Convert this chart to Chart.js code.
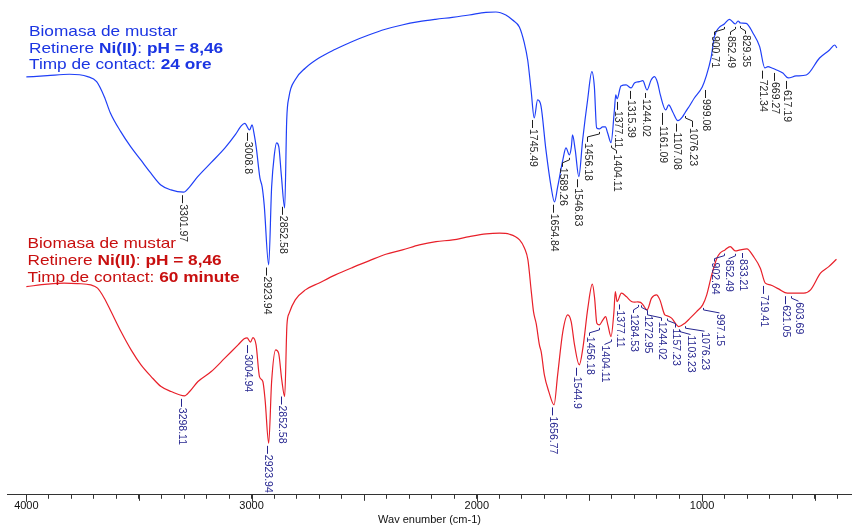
<!DOCTYPE html>
<html>
<head>
<meta charset="utf-8">
<script src="https://cdn.jsdelivr.net/npm/chart.js@4.4.1/dist/chart.umd.min.js"></script>
<style>
  html, body { margin: 0; padding: 0; background: #ffffff; }
  canvas { display: block; }
</style>
</head>
<body>
<canvas id="ftir" width="852" height="525"></canvas>
<script>
// FTIR spectra of mustard biomass after Ni(II) retention (pH 8.46)
// Upper trace: 24 h contact time
const wavenumber24h = [4000, 3907, 3809, 3728, 3688, 3654, 3627, 3581, 3537, 3492, 3448, 3403, 3358, 3302, 3274, 3239, 3181, 3118, 3073, 3046, 3030, 3009, 2998, 2988, 2979, 2963, 2953, 2944, 2924, 2911, 2899, 2889, 2879, 2868, 2853, 2844, 2834, 2807, 2762, 2703, 2628, 2555, 2480, 2406, 2332, 2257, 2183, 2109, 2034, 1960, 1915, 1871, 1841, 1811, 1789, 1774, 1759, 1745, 1730, 1715, 1693, 1670, 1655, 1641, 1618, 1604, 1589, 1580, 1575, 1563, 1547, 1530, 1508, 1489, 1478, 1468, 1456, 1441, 1429, 1419, 1404, 1389, 1383, 1377, 1360, 1337, 1315, 1300, 1278, 1263, 1244, 1226, 1211, 1197, 1185, 1161, 1148, 1130, 1107, 1086, 1076, 1053, 1034, 999, 982, 960, 945, 926, 901, 878, 852, 840, 829, 804, 774, 744, 721, 707, 690, 669, 641, 617, 582, 537, 478, 434, 411, 401];
const transmittance24h = [418, 419.3, 420.7, 418.3, 413.3, 398.3, 382, 363.3, 348.3, 335, 322, 310, 305, 302.7, 308.3, 318.3, 332, 347, 360, 369, 371.5, 365, 370, 360, 347, 317, 308, 290, 230, 308, 340, 352, 348, 320, 287, 375, 398, 415, 426.7, 436.7, 445.7, 453.3, 460, 465.7, 470, 473.3, 475.7, 477.7, 480, 482.7, 483, 480, 475, 468, 452, 435, 405, 377, 395, 389, 345, 308, 293, 308, 335, 347, 340, 348.3, 360, 345, 318.3, 355, 395, 423.3, 408.3, 367, 366, 368, 368, 362, 352.3, 385, 400, 396, 409, 410, 407, 412, 413.3, 414.3, 405, 415, 418.3, 412, 400, 385, 390, 383, 374.3, 378.3, 382, 390, 397, 408, 418.3, 437, 458.3, 467, 471, 475.7, 471, 474, 472, 471.7, 462, 448.3, 427, 428.3, 427, 425, 422, 417, 419, 420, 437, 445, 450, 447];

// Lower trace: 60 min contact time
const wavenumber60m = [4000, 3907, 3832, 3773, 3714, 3684, 3654, 3624, 3580, 3535, 3491, 3446, 3402, 3357, 3298, 3275, 3238, 3179, 3119, 3060, 3033, 3020, 3005, 2994, 2980, 2965, 2950, 2940, 2924, 2911, 2893, 2880, 2866, 2853, 2843, 2833, 2806, 2761, 2702, 2628, 2553, 2479, 2404, 2330, 2255, 2181, 2107, 2033, 1958, 1899, 1855, 1810, 1788, 1773, 1758, 1748, 1736, 1722, 1714, 1700, 1680, 1657, 1641, 1618, 1596, 1581, 1566, 1545, 1529, 1507, 1487, 1477, 1467, 1456, 1440, 1428, 1418, 1404, 1391, 1385, 1377, 1358, 1336, 1313, 1299, 1285, 1273, 1262, 1244, 1224, 1202, 1187, 1165, 1157, 1135, 1113, 1103, 1076, 1053, 1024, 997, 979, 957, 934, 920, 898, 875, 852, 831, 801, 771, 741, 719, 697, 660, 621, 593, 548, 518, 474, 437, 403];
const transmittance60m = [208.3, 210.7, 211.7, 211.3, 210, 206.7, 196.7, 183.3, 163.3, 145, 130, 118.3, 108.3, 103.3, 99, 103.3, 113.3, 123.3, 136.7, 150, 156, 157, 152.7, 157.3, 150, 118.3, 113.3, 95, 51.7, 113.3, 145, 141.7, 115, 98.3, 170, 181.7, 195, 205, 211.7, 220, 227.3, 234, 240.7, 245, 250, 253.3, 255, 258.3, 261, 261.7, 260.7, 255, 246.7, 235, 203.3, 183, 171, 150, 143, 120, 103, 90, 120, 163.3, 180, 173.3, 150, 130, 146.7, 186.7, 210.7, 197, 171.7, 170, 175, 178.3, 170, 158.3, 183.3, 203.3, 193.3, 201.7, 198.3, 193.3, 192.7, 193, 192.5, 190, 185, 196.7, 200, 195, 180, 179.3, 176.7, 170, 168.3, 171.7, 176.7, 183.3, 190, 200, 220, 236.7, 241.7, 245, 248.3, 244, 245, 246, 238.3, 226.7, 211.7, 210, 206, 201.7, 201.7, 201.7, 205, 221.7, 228.3, 235.7];

// Annotated band positions (cm-1)
const peaks24h = [3301.97, 3008.8, 2923.94, 2852.58, 1745.49, 1654.84, 1589.26, 1546.83, 1456.18, 1404.11, 1377.11, 1315.39, 1244.02, 1161.09, 1107.08, 1076.23, 999.08, 900.71, 852.49, 829.35, 721.34, 669.27, 617.19];
const peaks60m = [3298.11, 3004.94, 2923.94, 2852.58, 1656.77, 1544.9, 1456.18, 1404.11, 1377.11, 1284.53, 1272.95, 1244.02, 1157.23, 1103.23, 1076.23, 997.15, 902.64, 852.49, 833.21, 719.41, 621.05, 603.69];

const xTickLabels = [4000, 3000, 2000, 1000];

// Caption text runs: [text, bold]
const caption24h = [
  [['Biomasa de mustar', false]],
  [['Retinere ', false], ['Ni(II)', true], [': ', false], ['pH = 8,46', true]],
  [['Timp de contact: ', false], ['24 ore', true]]
];
const caption60m = [
  [['Biomasa de mustar', false]],
  [['Retinere ', false], ['Ni(II)', true], [': ', false], ['pH = 8,46', true]],
  [['Timp de contact: ', false], ['60 minute', true]]
];

// Label leader offsets [column shift px, extra drop px], one per band label
const labelShift24h = [[-2,0],[-3,0],[-3,0],[-3,0],[-2,0],[-2,0],[-7,1],[-2,0],[-12,2],[5,0],[0,0],[-1,0],[-2,-4],[-4,4],[-2,0],[7,3],[3,0],[-10,0],[-5,0],[5,0],[-3,0],[-2,0],[-2,0]];
const labelShift60m = [[-3,0],[-3,0],[-2,0],[-4,0],[-2,0],[-3,0],[-10,0],[-7,-3],[2,-3],[-5,0],[6,1],[14,0],[8,1],[11,-3],[19,-3],[16,-4],[-10,0],[-7,-5],[2,-3],[-2,0],[-2,0],[7,-3]];

const FONT = '"Liberation Sans", Arial, Helvetica, sans-serif';

function toPoints(xs, ys) {
  return xs.map((x, i) => ({ x: x, y: ys[i] }));
}

// Linear interpolation of a trace at a given wavenumber (arrays run high -> low)
function valueAt(wn, vals, p) {
  for (let i = 0; i < wn.length - 1; i++) {
    if (wn[i] >= p && p >= wn[i + 1]) {
      const t = (wn[i] - p) / (wn[i] - wn[i + 1]);
      return vals[i] + t * (vals[i + 1] - vals[i]);
    }
  }
  return vals[vals.length - 1];
}

function drawBandLabels(chart, wn, vals, peaks, shifts, color) {
  const ctx = chart.ctx, xs = chart.scales.x, ys = chart.scales.y;
  ctx.save();
  ctx.strokeStyle = color;
  ctx.fillStyle = color;
  ctx.lineWidth = 1;
  ctx.font = '10.5px ' + FONT;
  ctx.textAlign = 'left';
  ctx.textBaseline = 'middle';
  peaks.forEach((p, i) => {
    const mx = Math.round(xs.getPixelForValue(p)) + 0.5;
    const my = ys.getPixelForValue(valueAt(wn, vals, p));
    const dx = shifts[i][0], dy = shifts[i][1];
    const tx = mx + dx;
    const endY = Math.max(my + 8, my + 11 + dy);
    ctx.beginPath();
    if (Math.abs(dx) < 5) {
      ctx.moveTo(tx, my + 3);
      ctx.lineTo(tx, endY);
    } else {
      ctx.moveTo(mx, my + 3);
      ctx.lineTo(mx, my + 5);
      ctx.lineTo(tx, my + 8);
      ctx.lineTo(tx, endY);
    }
    ctx.stroke();
    ctx.save();
    ctx.translate(tx, Math.max(my + 9, my + 12 + dy));
    ctx.rotate(Math.PI / 2);
    ctx.fillText(String(p), 0, 0);
    ctx.restore();
  });
  ctx.restore();
}

function drawCaption(ctx, x, baselines, lines, color) {
  ctx.save();
  ctx.fillStyle = color;
  ctx.textAlign = 'left';
  ctx.textBaseline = 'alphabetic';
  lines.forEach((runs, i) => {
    ctx.save();
    ctx.translate(x, baselines[i]);
    ctx.scale(1.15, 1);
    let cx = 0;
    runs.forEach(([t, bold]) => {
      ctx.font = (bold ? 'bold ' : '') + '15px ' + FONT;
      ctx.fillText(t, cx, 0);
      cx += ctx.measureText(t).width;
    });
    ctx.restore();
  });
  ctx.restore();
}

const annotations = {
  id: 'spectrumAnnotations',
  afterDraw(chart) {
    const ctx = chart.ctx;
    const xs = chart.scales.x;
    // longer tick marks every 500 cm-1
    ctx.save();
    ctx.strokeStyle = '#333';
    ctx.lineWidth = 1;
    xs.ticks.forEach(t => {
      if (t.value % 500 === 0) {
        const px = Math.round(xs.getPixelForValue(t.value)) + 0.5;
        ctx.beginPath();
        ctx.moveTo(px, xs.top);
        ctx.lineTo(px, xs.top + (t.value % 1000 === 0 ? 7 : 6));
        ctx.stroke();
      }
    });
    ctx.restore();

    drawBandLabels(chart, wavenumber24h, transmittance24h, peaks24h, labelShift24h, '#1e1e1e');
    drawBandLabels(chart, wavenumber60m, transmittance60m, peaks60m, labelShift60m, '#25258f');

    drawCaption(ctx, 29, [36, 52.5, 69], caption24h, '#1b35e2');
    drawCaption(ctx, 27.5, [248, 265, 282], caption60m, '#c80f0f');
  }
};

new Chart(document.getElementById('ftir'), {
  type: 'line',
  data: {
    datasets: [
      {
        label: '24 ore',
        data: toPoints(wavenumber24h, transmittance24h),
        borderColor: '#1f3ff7',
        borderWidth: 1.2,
        pointRadius: 0,
        fill: false,
        cubicInterpolationMode: 'monotone'
      },
      {
        label: '60 minute',
        data: toPoints(wavenumber60m, transmittance60m),
        borderColor: '#e8202a',
        borderWidth: 1.2,
        pointRadius: 0,
        fill: false,
        cubicInterpolationMode: 'monotone'
      }
    ]
  },
  options: {
    responsive: false,
    animation: false,
    layout: { padding: { left: 7, right: 0, top: 0, bottom: 0 } },
    plugins: {
      legend: { display: false },
      tooltip: { enabled: false }
    },
    scales: {
      x: {
        type: 'linear',
        reverse: true,
        min: 334,
        max: 4086,
        border: { display: true, color: '#333', width: 1 },
        grid: { drawOnChartArea: false, drawTicks: true, tickLength: 4, color: '#333', tickColor: '#333' },
        ticks: {
          stepSize: 100,
          autoSkip: false,
          includeBounds: false,
          maxRotation: 0,
          padding: 1,
          color: '#111',
          font: { family: FONT, size: 11, lineHeight: 1.2 },
          callback: v => (xTickLabels.includes(v) ? String(v) : '')
        },
        title: {
          display: true,
          text: 'Wav enumber (cm-1)',
          color: '#111',
          font: { family: FONT, size: 11, lineHeight: 1.0 },
          padding: { top: 0, bottom: 0 }
        }
      },
      y: {
        display: false,
        min: 0,
        max: 495
      }
    }
  },
  plugins: [annotations]
});
</script>
</body>
</html>
